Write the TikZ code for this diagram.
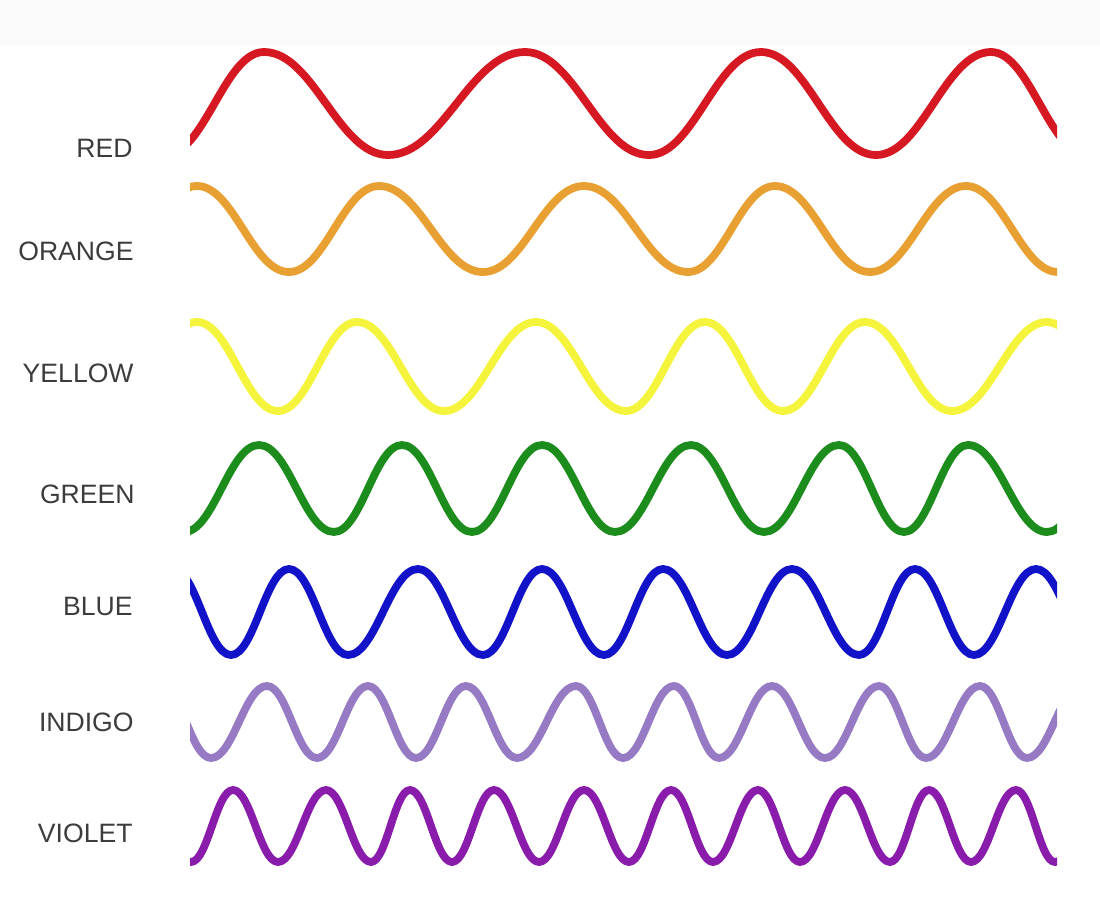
\documentclass[tikz,border=0pt]{standalone}
\usepackage{fontspec}
\setmainfont{Liberation Sans}
\definecolor{wred}{RGB}{214,24,34}
\definecolor{worange}{RGB}{233,160,50}
\definecolor{wyellow}{RGB}{244,244,60}
\definecolor{wgreen}{RGB}{28,140,28}
\definecolor{wblue}{RGB}{18,18,200}
\definecolor{windigo}{RGB}{150,122,196}
\definecolor{wviolet}{RGB}{138,28,172}
\definecolor{lblgray}{RGB}{60,60,60}
\newcommand\wavecurve[4]{%
  \draw[wave,#1] (#2,#3) foreach \px/\py [remember=\px as \lx (initially #2), remember=\py as \ly (initially #3)] in {#4} { .. controls ({\lx+0.40*(\px-\lx)},\ly) and ({\px-0.40*(\px-\lx)},\py) .. (\px,\py)};}
\tikzset{
  wave/.style={line width=3.9pt, line join=round},
  lbl/.style={anchor=east, inner sep=0pt, text=lblgray, font=\fontsize{13.3}{14}\selectfont}
}
\begin{document}
\begin{tikzpicture}[x=0.5pt,y=-0.5pt]
\useasboundingbox (0,0) rectangle (1100,900);
\fill[black!2] (0,0) rectangle (1100,45);
% labels
\node[lbl] (red)    at (133,148) {RED};
\node[lbl] (orange) at (134,251) {ORANGE};
\node[lbl] (yellow) at (134,373) {YELLOW};
\node[lbl] (green)  at (135,494) {GREEN};
\node[lbl] (blue)   at (133,606) {BLUE};
\node[lbl] (indigo) at (134,722) {INDIGO};
\node[lbl] (violet) at (133,833) {VIOLET};
% waves
\begin{scope}
\clip (190,0) rectangle (1057,900);
\wavecurve{wred}{165}{155}{264/52,388/155,525/52,649/155,761/52,876/155,991/52,1088/155}
\wavecurve{worange}{105}{272}{197/186,289/272,379/186,483/272,584/186,688/272,775/186,870/272,966/186,1058/272}
\wavecurve{wyellow}{117}{411}{197/322,278/411,357/322,444/411,536/322,626/411,705/322,783/411,865/322,952/411,1047/322,1130/411}
\wavecurve{wgreen}{184}{532}{259/445,334/532,402/445,472/532,542/445,615/532,691/445,764/532,839/445,904/532,968/445,1047/532,1120/445}
\wavecurve{wblue}{173}{569}{231/655,289/569,348/655,418/569,483/655,542/569,604/655,663/569,727/655,792/569,859/655,915/569,974/655,1036/569,1098/655}
\wavecurve{windigo}{161}{686}{211/758,267/686,317/758,368/686,416/758,466/686,517/758,576/686,623/758,674/686,719/758,772/686,825/758,879/686,926/758,980/686,1027/758,1082/686}
\wavecurve{wviolet}{148}{790}{191/862,233/790,278/862,326/790,371/862,410/790,452/862,494/790,539/862,584/790,629/862,671/790,713/862,758/790,800/862,845/790,890/862,929/790,971/862,1016/790,1055/862,1100/790}
\end{scope}
\end{tikzpicture}
\end{document}
